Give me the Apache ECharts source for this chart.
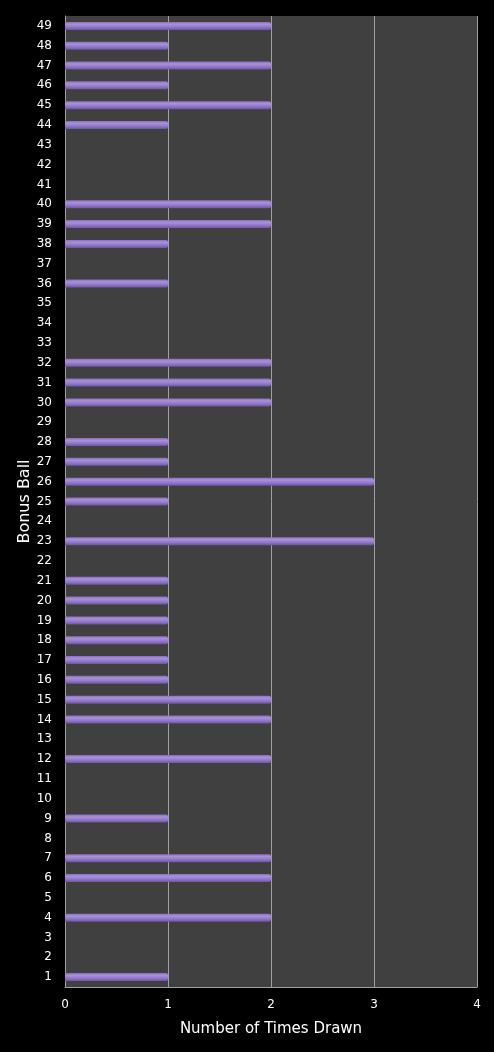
<!DOCTYPE html>
<html>
<head>
    <meta charset="utf-8">
    <title>Bonus Ball</title>
    <script src="https://cdn.jsdelivr.net/npm/echarts@6/dist/echarts.min.js"></script>
    <style>
        html, body { margin: 0; padding: 0; background: #000; }
        #chart { width: 494px; height: 1052px; }
    </style>
</head>
<body>
<div id="chart"></div>
<script>
    // bonus ball numbers 1..49
    var balls = [];
    for (var i = 1; i <= 49; i++) balls.push(String(i));
    // times drawn, in the same order
    var timesDrawn = [1, 0, 0, 2, 0, 2, 2, 0, 1, 0,
                      0, 2, 0, 2, 2, 1, 1, 1, 1, 1,
                      1, 0, 3, 0, 1, 3, 1, 1, 0, 2,
                      2, 2, 0, 0, 0, 1, 0, 1, 2, 2,
                      0, 0, 0, 1, 2, 1, 2, 1, 2];
    var xTicks = [0, 1, 2, 3, 4];

    var font = 'DejaVu Sans';

    var option = {
        backgroundColor: '#000',
        animation: false,
        grid: {
            left: 65,
            right: 17,
            top: 16,
            bottom: 65,
            show: true,
            backgroundColor: '#404040',
            borderWidth: 0
        },
        xAxis: {
            type: 'value',
            min: xTicks[0],
            max: xTicks[xTicks.length - 1],
            interval: 1,
            name: 'Number of Times Drawn',
            nameLocation: 'middle',
            nameGap: 35,
            nameMoveOverlap: false,
            nameTextStyle: { color: '#fff', fontSize: 15, fontFamily: font },
            axisLine: { show: true, lineStyle: { color: '#a0a0a0', width: 1 } },
            axisTick: { show: false },
            axisLabel: { color: '#fff', fontSize: 12, fontFamily: font, margin: 12 },
            splitLine: { show: true, lineStyle: { color: '#a0a0a0', width: 1 } }
        },
        yAxis: {
            type: 'category',
            data: balls,
            name: 'Bonus Ball',
            nameLocation: 'middle',
            nameGap: 32,
            nameMoveOverlap: false,
            nameTextStyle: { color: '#fff', fontSize: 16, fontFamily: font },
            axisLine: { show: true, lineStyle: { color: '#a0a0a0', width: 1 } },
            axisTick: { show: false },
            axisLabel: { color: '#fff', fontSize: 12, fontFamily: font, margin: 13, interval: 0 },
            splitLine: { show: false }
        },
        series: [{
            type: 'bar',
            data: timesDrawn,
            barWidth: 8,
            itemStyle: {
                borderRadius: [0, 2, 2, 0],
                color: {
                    type: 'linear', x: 0, y: 0, x2: 0, y2: 1,
                    colorStops: [
                        { offset: 0, color: '#8a70bd' },
                        { offset: 0.3, color: '#a891da' },
                        { offset: 0.65, color: '#9277c9' },
                        { offset: 1, color: '#6e55a3' }
                    ]
                }
            }
        }]
    };

    var myChart = echarts.init(document.getElementById('chart'));
    myChart.setOption(option);
</script>
</body>
</html>
